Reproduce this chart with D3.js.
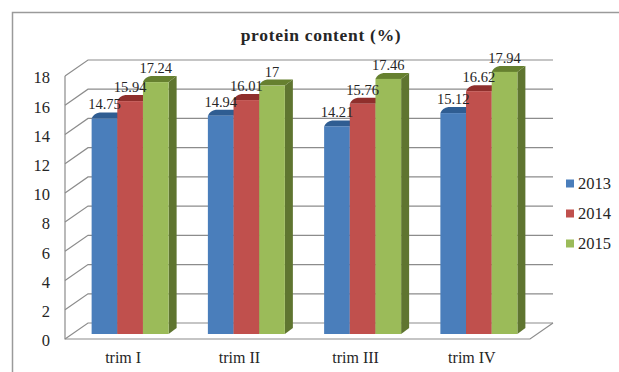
<!DOCTYPE html>
<html>
<head>
<meta charset="utf-8">
<script src="https://cdn.jsdelivr.net/npm/d3@7/dist/d3.min.js"></script>
<style>
html,body{margin:0;padding:0;background:#fff}
svg{display:block}
text{font-family:"Liberation Serif",serif;fill:#262626}
</style>
</head>
<body>
<svg id="chart" width="619" height="372"></svg>
<script>
const categories = ["trim I", "trim II", "trim III", "trim IV"];
const years = ["2013", "2014", "2015"];
const values2013 = [14.75, 14.94, 14.21, 15.12];
const values2014 = [15.94, 16.01, 15.76, 16.62];
const values2015 = [17.24, 17, 17.46, 17.94];
const yTicks = [0, 2, 4, 6, 8, 10, 12, 14, 16, 18];
const frontColors = ["#4a7ebb", "#c0504d", "#9bbb59"];
const capColors = ["#2f5d92", "#8f2f2c", "#66802f"];
const sideColors = ["#37608e", "#8e3b39", "#5f7530"];

const seriesValues = [values2013, values2014, values2015];
const svg = d3.select("#chart");

// Projection of the 3D box: wall depth and bar depth
const wallDx = 23, wallDy = -16;
const barDx = 8, barDy = -6;
const barLift = 5;
const gridColor = "#8c8c8c";

const y = d3.scaleLinear().domain([0, 18]).range([339, 76]);
const x0 = d3.scaleBand().domain(categories).range([65, 530]);
const x1 = d3.scaleBand().domain(years).range([-38.5, 38.5]);
const barShift = 7;

// Outer frame of the chart area
svg.append("path").attr("d", "M12.5,372V12.5H619")
  .attr("fill", "none").attr("stroke", "#9a9a9a").attr("stroke-width", 1.5);

// Wall grid: side-wall diagonal plus back-wall horizontal
const grid = svg.append("g").attr("fill", "none").attr("stroke", gridColor).attr("stroke-width", 1.2);
grid.selectAll("path").data(yTicks).join("path")
  .attr("d", t => {
    const yy = y(t);
    return `M65,${yy}L${65 + wallDx},${yy + wallDy}H${530 + wallDx}`;
  });
// Floor edge and vertical axis
grid.append("path").attr("class", "floor").attr("d",
  `M65,${y(18)}V${y(0)}H530L${530 + wallDx},${y(0) + wallDy}`);

// Bars, drawn left to right so later faces overlap earlier sides
const groups = svg.append("g").selectAll("g").data(categories).join("g")
  .attr("transform", c => `translate(${x0(c) + x0.bandwidth() / 2 + barShift},0)`);

groups.each(function (c, ci) {
  const g = d3.select(this);
  years.forEach((yr, si) => {
    const v = seriesValues[si][ci];
    const l = x1(yr), r = l + x1.bandwidth();
    const top = y(v) - barLift, base = y(0) - barLift;
    g.append("path").attr("fill", sideColors[si])
      .attr("d", `M${r},${top}L${r + barDx},${top + barDy}V${base + barDy}L${r},${base}Z`);
    g.append("path").attr("fill", capColors[si])
      .attr("d", `M${l},${top}Q${l + 2},${top + barDy + 1} ${l + barDx},${top + barDy}H${r + barDx}L${r},${top}Z`);
    g.append("rect").attr("fill", frontColors[si])
      .attr("x", l).attr("y", top).attr("width", x1.bandwidth()).attr("height", base - top);
  });
});

// Value labels sit above the front edge of each bar
groups.each(function (c, ci) {
  const g = d3.select(this);
  years.forEach((yr, si) => {
    const v = seriesValues[si][ci];
    g.append("text")
      .attr("x", x1(yr) + x1.bandwidth() / 2)
      .attr("y", y(v) - barLift - 9)
      .attr("text-anchor", "middle")
      .attr("font-size", 14.5)
      .text(v);
  });
});

// Value axis labels
const yAxis = svg.append("g").attr("transform", "translate(50,1.5)")
  .call(d3.axisLeft(y).tickValues(yTicks).tickSize(0).tickPadding(0));
yAxis.select(".domain").remove();
yAxis.selectAll("text").attr("font-size", 16.5).attr("text-anchor", "end")
  .style("font-family", '"Liberation Serif",serif').attr("fill", "#262626");

// Category labels
const xAxis = svg.append("g").attr("transform", "translate(0,352)")
  .call(d3.axisBottom(x0).tickSize(0).tickPadding(0));
xAxis.select(".domain").remove();
xAxis.selectAll("text").attr("font-size", 16)
  .style("font-family", '"Liberation Serif",serif').attr("fill", "#262626");

// Title
svg.append("text").attr("x", 321).attr("y", 41).attr("text-anchor", "middle")
  .attr("font-size", 17.5).attr("font-weight", "bold").attr("letter-spacing", 0.7)
  .text("protein content (%)");

// Legend
const legendY = d3.scalePoint().domain(years).range([183, 243]);
const legend = svg.append("g").selectAll("g").data(years).join("g")
  .attr("transform", d => `translate(566,${legendY(d)})`);
legend.append("rect").attr("x", 0).attr("y", -3.5).attr("width", 8).attr("height", 8)
  .attr("fill", (d, i) => frontColors[i]);
legend.append("text").attr("x", 12).attr("y", 6).attr("font-size", 16.5).text(d => d);
</script>
</body>
</html>
